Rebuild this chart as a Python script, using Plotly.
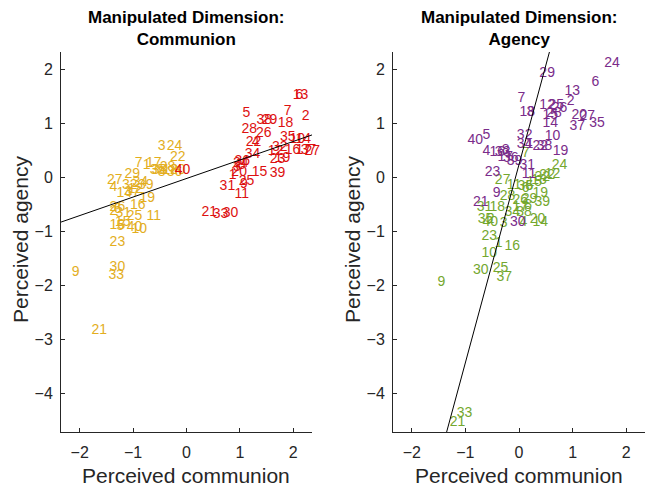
import plotly.graph_objects as go

# ---------------- data ----------------
# Left panel: manipulated communion (low = yellow, high = red)
low_comm_labels = [3, 24, 22, 7, 17, 1, 38, 8, 18, 36, 28, 35, 20, 29, 27, 4, 32, 14, 12, 37,
                   34, 39, 19, 16, 11, 25, 26, 2, 6, 31, 15, 13, 5, 40, 10, 23, 30, 33, 9, 21]
low_comm_x = [-0.54, -0.37, -0.31, -0.97, -0.76, -0.82, -0.65, -0.54, -0.45, -0.37, -0.50, -0.69, -0.31,
              -1.16, -1.49, -1.44, -1.21, -1.31, -1.10, -1.16, -1.01, -0.91, -0.88, -1.06, -0.75, -1.12,
              -1.44, -1.44, -1.36, -1.33, -1.34, -1.44, -1.31, -1.12, -1.03, -1.44, -1.44, -1.46, -2.15, -1.78]
low_comm_y = [0.57, 0.57, 0.38, 0.27, 0.27, 0.23, 0.14, 0.10, 0.14, 0.10, 0.18, 0.14, 0.14,
              0.05, -0.06, -0.19, -0.14, -0.29, -0.23, -0.27, -0.10, -0.14, -0.38, -0.51, -0.73, -0.73,
              -0.56, -0.62, -0.60, -0.66, -0.83, -0.88, -0.90, -0.92, -0.97, -1.20, -1.66, -1.81, -1.77, -2.83]

high_comm_labels = [6, 13, 7, 2, 18, 5, 38, 29, 28, 26, 22, 4, 35, 10, 14, 16, 17, 37, 27, 12,
                    32, 19, 23, 34, 36, 24, 8, 3, 20, 15, 39, 1, 25, 9, 31, 11, 21, 33, 30, 40]
high_comm_x = [2.04, 1.99, 1.82, 2.16, 1.71, 1.05, 1.31, 1.41, 1.03, 1.30, 1.11, 1.22, 1.75, 1.93, 2.04,
               1.84, 2.04, 2.14, 2.21, 1.52, 1.60, 1.65, 1.56, 1.09, 0.90, 0.87, 0.96, 0.87, 0.84, 1.22,
               1.56, 0.79, 0.98, 1.00, 0.62, 0.90, 0.28, 0.49, 0.68, -0.22]
high_comm_y = [1.52, 1.52, 1.22, 1.14, 1.01, 1.18, 1.05, 1.05, 0.89, 0.81, 0.66, 0.66, 0.75, 0.70, 0.70,
               0.51, 0.51, 0.51, 0.48, 0.48, 0.55, 0.36, 0.33, 0.42, 0.29, 0.27, 0.22, 0.18, 0.09, 0.10,
               0.08, 0.03, -0.08, -0.12, -0.16, -0.32, -0.64, -0.68, -0.66, 0.14]

# Right panel: manipulated agency (high = purple, low = green)
high_agen_labels = [24, 6, 29, 13, 2, 7, 12, 26, 25, 18, 3, 28, 15, 20, 27, 35, 37, 14, 10, 40,
                    5, 32, 34, 22, 38, 19, 1, 4, 33, 8, 36, 16, 17, 39, 31, 23, 11, 9, 21, 30]
high_agen_x = [1.59, 1.35, 0.38, 0.85, 0.89, -0.03, 0.38, 0.61, 0.55, 0.01, 0.14, 0.51, 0.44, 0.98, 1.13,
               1.31, 0.94, 0.44, 0.48, -0.96, -0.68, -0.04, -0.04, 0.25, 0.33, 0.63, 0.12, -0.68, -0.45,
               -0.32, -0.30, -0.55, -0.40, -0.23, 0.01, -0.64, 0.05, -0.49, -0.86, -0.17]
high_agen_y = [2.11, 1.76, 1.93, 1.59, 1.41, 1.46, 1.33, 1.29, 1.33, 1.20, 1.20, 1.18, 1.15, 1.16, 1.13,
               1.00, 0.94, 1.00, 0.77, 0.68, 0.79, 0.79, 0.62, 0.57, 0.57, 0.49, 0.62, 0.48, 0.46,
               0.51, 0.36, 0.46, 0.38, 0.29, 0.23, 0.10, 0.05, -0.29, -0.47, -0.83]

low_agen_labels = [24, 7, 32, 12, 22, 13, 27, 11, 36, 6, 5, 19, 28, 15, 31, 18, 26, 8, 39, 29,
                   17, 34, 38, 35, 2, 40, 3, 20, 4, 14, 23, 1, 16, 10, 30, 25, 37, 9, 33, 21]
low_agen_x = [0.61, 0.05, 0.29, 0.48, 0.38, 0.23, -0.45, -0.23, -0.03, 0.05, 0.12, 0.25, -0.36, 0.14,
              -0.79, -0.55, -0.12, 0.10, 0.29, 0.05, -0.12, -0.27, -0.05, -0.77, -0.60, -0.68, -0.36,
              0.20, 0.01, 0.25, -0.70, -0.45, -0.27, -0.70, -0.86, -0.49, -0.42, -1.52, -1.16, -1.29]
low_agen_y = [0.22, 0.44, 0.01, 0.05, 0.03, -0.06, -0.06, -0.14, -0.17, -0.21, -0.17, -0.29, -0.36, -0.10,
              -0.55, -0.55, -0.42, -0.51, -0.47, -0.40, -0.55, -0.64, -0.64, -0.77, -0.77, -0.83, -0.85,
              -0.77, -0.83, -0.83, -1.09, -1.22, -1.27, -1.40, -1.72, -1.68, -1.85, -1.94, -4.38, -4.54]

# fitted lines
left_fit_slope, left_fit_intercept = 0.344, -0.017    # agency = a * communion + b
right_fit_slope, right_fit_intercept = 0.272, -0.066  # communion = a * agency + b

x_range = [-2.35, 2.35]
y_range = [-4.72, 2.33]
x_ticks = [-2, -1, 0, 1, 2]
y_ticks = [-4, -3, -2, -1, 0, 1, 2]

titles = ["Manipulated Dimension:<br>Communion", "Manipulated Dimension:<br>Agency"]
x_title = "Perceived communion"
y_title = "Perceived agency"

# ---------------- styles ----------------
FONT = "Liberation Sans, Arial, sans-serif"
AX = "#262626"
YELLOW = "#E3AE1E"
RED = "#DD1010"
PURPLE = "#7A2C8A"
GREEN = "#74A72E"

fig = go.Figure()


def text_trace(xs, ys, labels, color, xa, ya):
    return go.Scatter(x=xs, y=ys, text=[str(v) for v in labels], mode="text",
                      textposition="middle right",
                      textfont=dict(family=FONT, size=14, color=color),
                      xaxis=xa, yaxis=ya, hoverinfo="skip", showlegend=False,
                      cliponaxis=False)


fig.add_trace(text_trace(low_comm_x, low_comm_y, low_comm_labels, YELLOW, "x", "y"))
fig.add_trace(text_trace(high_comm_x, high_comm_y, high_comm_labels, RED, "x", "y"))
fig.add_trace(text_trace(low_agen_x, low_agen_y, low_agen_labels, GREEN, "x2", "y2"))
fig.add_trace(text_trace(high_agen_x, high_agen_y, high_agen_labels, PURPLE, "x2", "y2"))

# regression lines computed from the fit parameters over the axis range
lx = x_range
ly = [left_fit_slope * v + left_fit_intercept for v in lx]
fig.add_trace(go.Scatter(x=lx, y=ly, mode="lines", line=dict(color="black", width=1),
                         xaxis="x", yaxis="y", hoverinfo="skip", showlegend=False))
ry = y_range
rx = [right_fit_slope * v + right_fit_intercept for v in ry]
fig.add_trace(go.Scatter(x=rx, y=ry, mode="lines", line=dict(color="black", width=1),
                         xaxis="x2", yaxis="y2", hoverinfo="skip", showlegend=False))

W, H = 651, 489
ML, MR, MT, MB = 61, 6, 52, 57
PW = W - ML - MR
PH = H - MT - MB


def px_to_paper_x(px):
    return (px - ML) / PW


def px_to_paper_y(py):
    return (H - MB - py) / PH


left_dom = [0, px_to_paper_x(312)]
right_dom = [px_to_paper_x(393), 1]

axis_common = dict(showline=True, linecolor=AX, linewidth=1, ticks="inside", ticklen=4,
                   tickcolor=AX, showgrid=False, zeroline=False, mirror=False,
                   tickfont=dict(family=FONT, size=16, color=AX))

fig.update_layout(
    width=W, height=H, margin=dict(l=ML, r=MR, t=MT, b=MB),
    paper_bgcolor="white", plot_bgcolor="white",
    xaxis=dict(domain=left_dom, range=x_range, tickvals=x_ticks, ticklabelstandoff=6, **axis_common),
    yaxis=dict(domain=[0, 1], range=y_range, tickvals=y_ticks, ticklabelstandoff=4, **axis_common),
    xaxis2=dict(domain=right_dom, range=x_range, tickvals=x_ticks, ticklabelstandoff=6, anchor="y2",
                **axis_common),
    yaxis2=dict(domain=[0, 1], range=y_range, tickvals=y_ticks, ticklabelstandoff=4, anchor="x2",
                **axis_common),
    showlegend=False,
)

anns = []
for t, cx in zip(titles, [186, 519]):
    anns.append(dict(text="<b>" + t + "</b>", x=px_to_paper_x(cx), y=px_to_paper_y(28),
                     xref="paper", yref="paper", xanchor="center", yanchor="middle",
                     showarrow=False, font=dict(family=FONT, size=17, color="black")))
for cx in [186, 519]:
    anns.append(dict(text=x_title, x=px_to_paper_x(cx), y=px_to_paper_y(476),
                     xref="paper", yref="paper", xanchor="center", yanchor="middle",
                     showarrow=False, font=dict(family=FONT, size=21, color=AX)))
for cx in [20, 352]:
    anns.append(dict(text=y_title, x=px_to_paper_x(cx), y=px_to_paper_y(240), textangle=-90,
                     xref="paper", yref="paper", xanchor="center", yanchor="middle",
                     showarrow=False, font=dict(family=FONT, size=21, color=AX)))
fig.update_layout(annotations=anns)

fig.write_html("out.html", config={"displayModeBar": False},
               post_script="document.body.style.margin='0px';")
